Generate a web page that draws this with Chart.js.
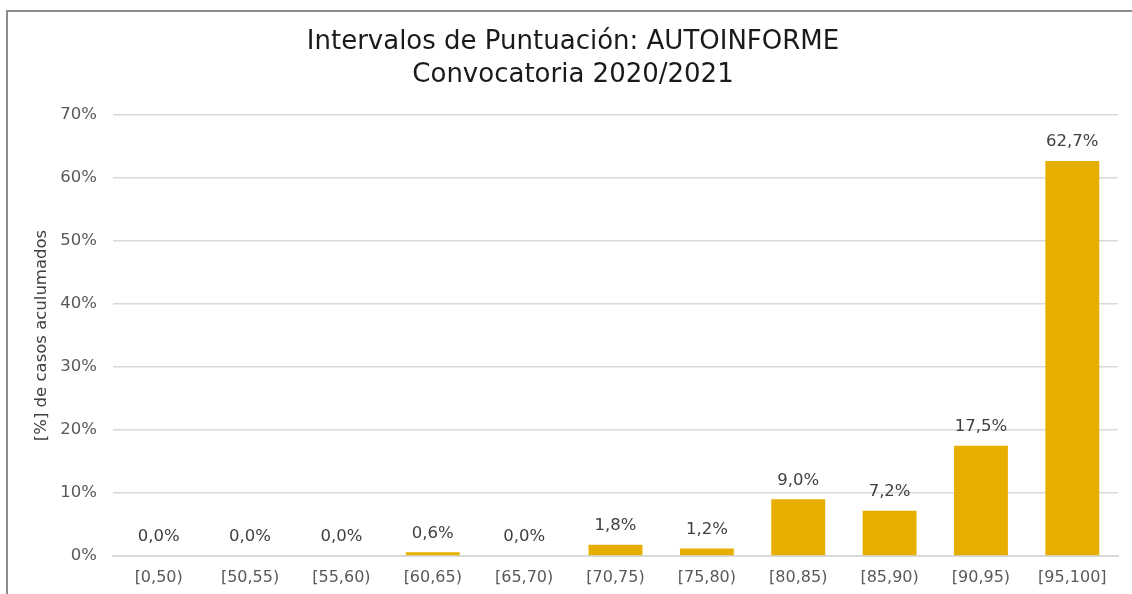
<!DOCTYPE html>
<html>
<head>
<meta charset="utf-8">
<script src="https://cdn.jsdelivr.net/npm/chart.js@4/dist/chart.umd.min.js"></script>
<style>
  html, body { margin: 0; padding: 0; background: #ffffff; overflow: hidden; }
  #wrap { position: relative; width: 1132px; height: 594px; }
  #frame { position: absolute; left: 6px; top: 10px; width: 1200px; height: 700px; border: 2px solid #8c8c8c; box-sizing: border-box; pointer-events: none; }
  canvas { position: absolute; left: 0; top: 0; }
</style>
</head>
<body>
<div id="wrap">
  <canvas id="c" width="1132" height="594"></canvas>
  <div id="frame"></div>
</div>
<script>
const titleLines = ['Intervalos de Puntuación: AUTOINFORME', 'Convocatoria 2020/2021'];
const categories = ['[0,50)', '[50,55)', '[55,60)', '[60,65)', '[65,70)', '[70,75)', '[75,80)', '[80,85)', '[85,90)', '[90,95)', '[95,100]'];
const percentages = [0.0, 0.0, 0.0, 0.6, 0.0, 1.8, 1.2, 9.0, 7.2, 17.5, 62.7];
const yAxisTitle = '[%] de casos aculumados';
const yMax = 70;
const yStep = 10;

const FONT = 'DejaVu Sans';

const chartTitle = {
  id: 'chartTitle',
  afterDraw(chart) {
    const ctx = chart.ctx;
    ctx.save();
    ctx.font = '26px "' + FONT + '"';
    ctx.fillStyle = '#1a1a1a';
    ctx.textAlign = 'center';
    ctx.textBaseline = 'middle';
    titleLines.forEach((line, i) => ctx.fillText(line, 573, 42 + i * 33));
    ctx.restore();
  }
};

const valueLabels = {
  id: 'valueLabels',
  afterDatasetsDraw(chart) {
    const ctx = chart.ctx;
    const meta = chart.getDatasetMeta(0);
    ctx.save();
    ctx.font = '16.5px "' + FONT + '"';
    ctx.fillStyle = '#404040';
    ctx.textAlign = 'center';
    ctx.textBaseline = 'middle';
    meta.data.forEach((bar, i) => {
      const txt = percentages[i].toFixed(1).replace('.', ',') + '%';
      ctx.fillText(txt, bar.x, bar.y - 19);
    });
    ctx.restore();
  }
};

new Chart(document.getElementById('c'), {
  type: 'bar',
  data: {
    labels: categories,
    datasets: [{
      data: percentages,
      backgroundColor: '#e6af00',
      borderWidth: 0,
      categoryPercentage: 1.0,
      barPercentage: 0.59
    }]
  },
  options: {
    responsive: false,
    animation: false,
    devicePixelRatio: 1,
    layout: { padding: { left: 0, right: 14, top: 115, bottom: 0 } },
    plugins: {
      legend: { display: false },
      tooltip: { enabled: false },
      title: { display: false }
    },
    scales: {
      x: {
        grid: { display: false, drawTicks: false },
        border: { display: true, color: '#d9d9d9', width: 2 },
        ticks: { color: '#595959', font: { family: FONT, size: 16 }, padding: 12, maxRotation: 0, autoSkip: false },
        afterFit(scale) { scale.height = 38; }
      },
      y: {
        min: 0,
        max: yMax,
        ticks: {
          stepSize: yStep,
          color: '#595959',
          font: { family: FONT, size: 16.5 },
          padding: 16,
          callback: v => v + '%'
        },
        grid: { color: '#d9d9d9', lineWidth: 1.5, drawTicks: false },
        border: { display: false },
        title: {
          display: true,
          text: yAxisTitle,
          color: '#404040',
          font: { family: FONT, size: 16.5 },
          padding: { top: 32, bottom: 0 }
        },
        afterFit(scale) { scale.width = 113; }
      }
    }
  },
  plugins: [valueLabels, chartTitle]
});
</script>
</body>
</html>
